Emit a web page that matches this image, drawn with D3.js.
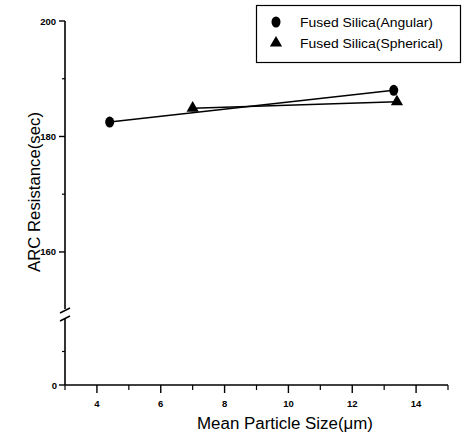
<!DOCTYPE html>
<html><head><meta charset="utf-8">
<script src="https://cdn.jsdelivr.net/npm/d3@7"></script>
<style>body{margin:0;background:#fff}svg{display:block}text{font-family:"Liberation Sans",Arial,sans-serif;fill:#000}</style>
</head><body>
<svg id="c" width="462" height="434"></svg>
<script>
const angularX = [4.4, 13.3];
const angularY = [182.5, 188.0];
const sphericalX = [7.0, 13.4];
const sphericalY = [184.9, 186.0];
const seriesNames = ["Fused Silica(Angular)", "Fused Silica(Spherical)"];
const xTicks = [4, 6, 8, 10, 12, 14];
const xMinor = [3, 5, 7, 9, 11, 13, 15];
const yUpperTicks = [160, 180, 200];
const yUpperMinor = [170, 190];
const yLowerTicks = [0];
const yLowerMinor = [10];
const xTitle = "Mean Particle Size(\u03bcm)";
const yTitle = "ARC Resistance(sec)";

const svg = d3.select("#c");
const x = d3.scaleLinear().domain([3, 15]).range([65, 448]);
const yU = d3.scaleLinear().domain([150, 200]).range([309.7, 21]);
const yL = d3.scaleLinear().domain([0, 20]).range([385, 318]);
const yv = v => v >= 100 ? yU(v) : yL(v);

// x axis
const gx = svg.append("g").attr("transform", "translate(0,385)");
gx.append("line").attr("x1", 65).attr("x2", 448).attr("stroke", "#000").attr("stroke-width", 1.6);
gx.selectAll(".mj").data(xTicks).join("line").attr("x1", d => x(d)).attr("x2", d => x(d))
  .attr("y1", 0).attr("y2", 8).attr("stroke", "#000").attr("stroke-width", 1.4);
gx.selectAll(".mn").data(xMinor).join("line").attr("class","mn").attr("x1", d => x(d)).attr("x2", d => x(d))
  .attr("y1", 0).attr("y2", 5).attr("stroke", "#000").attr("stroke-width", 1.2);
gx.selectAll("text.tl").data(xTicks).join("text").attr("class","tl").attr("x", d => x(d)).attr("y", 22)
  .attr("text-anchor", "middle").attr("font-size", 9.5).attr("font-weight", "bold").text(d => d);

// y axis
const gy = svg.append("g");
gy.append("line").attr("x1", 65).attr("x2", 65).attr("y1", 21).attr("y2", 309).attr("stroke", "#000").attr("stroke-width", 1.6);
gy.append("line").attr("x1", 65).attr("x2", 65).attr("y1", 319).attr("y2", 385).attr("stroke", "#000").attr("stroke-width", 1.6);
[310, 318].forEach(b => gy.append("line").attr("x1", 60).attr("x2", 70).attr("y1", b + 3).attr("y2", b - 2)
  .attr("stroke", "#000").attr("stroke-width", 1.4));
gy.selectAll(".ymj").data(yUpperTicks).join("line").attr("class","ymj").attr("x1", 59).attr("x2", 65)
  .attr("y1", d => yU(d)).attr("y2", d => yU(d)).attr("stroke", "#000").attr("stroke-width", 1.4);
gy.selectAll(".ymn").data(yUpperMinor).join("line").attr("class","ymn").attr("x1", 62).attr("x2", 65)
  .attr("y1", d => yU(d)).attr("y2", d => yU(d)).attr("stroke", "#000").attr("stroke-width", 1.2);
gy.selectAll(".ylmj").data(yLowerTicks).join("line").attr("class","ylmj").attr("x1", 59).attr("x2", 65)
  .attr("y1", d => yL(d)).attr("y2", d => yL(d)).attr("stroke", "#000").attr("stroke-width", 1.4);
gy.selectAll(".ylmn").data(yLowerMinor).join("line").attr("class","ylmn").attr("x1", 62).attr("x2", 65)
  .attr("y1", d => yL(d)).attr("y2", d => yL(d)).attr("stroke", "#000").attr("stroke-width", 1.2);
gy.selectAll("text.yu").data(yUpperTicks).join("text").attr("class","yu").attr("x", 56).attr("y", d => yU(d) + 3.5)
  .attr("text-anchor", "end").attr("font-size", 9.5).attr("font-weight", "bold").text(d => d);
gy.selectAll("text.yl").data(yLowerTicks).join("text").attr("class","yl").attr("x", 57).attr("y", d => yL(d) + 3.5)
  .attr("text-anchor", "end").attr("font-size", 9.5).attr("font-weight", "bold").text(d => d);

// titles
svg.append("text").attr("x", 285).attr("y", 429).attr("text-anchor", "middle").attr("font-size", 16)
  .attr("textLength", 176).attr("lengthAdjust", "spacingAndGlyphs").text(xTitle);
svg.append("text").attr("transform", "translate(40,192) rotate(-90)").attr("text-anchor", "middle").attr("font-size", 17)
  .attr("textLength", 160).attr("lengthAdjust", "spacingAndGlyphs").text(yTitle);

// lines
const line = d3.line().x(d => x(d[0])).y(d => yv(d[1]));
const ang = angularX.map((v, i) => [v, angularY[i]]);
const sph = sphericalX.map((v, i) => [v, sphericalY[i]]);
svg.append("path").attr("d", line(ang)).attr("fill", "none").attr("stroke", "#000").attr("stroke-width", 1.5);
svg.append("path").attr("d", line(sph)).attr("fill", "none").attr("stroke", "#000").attr("stroke-width", 1.5);
const tri = d3.symbol().type(d3.symbolTriangle).size(65);
svg.selectAll("ellipse.a").data(ang).join("ellipse").attr("class","a").attr("cx", d => x(d[0])).attr("cy", d => yv(d[1]))
  .attr("rx", 4.5).attr("ry", 5.5).attr("fill", "#000");
svg.selectAll("path.s").data(sph).join("path").attr("class","s").attr("d", tri)
  .attr("transform", d => `translate(${x(d[0])},${yv(d[1])})`).attr("fill", "#000");

// legend
const lg = svg.append("g");
lg.append("rect").attr("x", 256.5).attr("y", 5.5).attr("width", 204).attr("height", 57).attr("fill", "none")
  .attr("stroke", "#000").attr("stroke-width", 1.2);
lg.append("ellipse").attr("cx", 276).attr("cy", 22).attr("rx", 4.5).attr("ry", 5.5).attr("fill", "#000");
lg.append("path").attr("d", tri).attr("transform", "translate(276,43)").attr("fill", "#000");
lg.append("text").attr("x", 300).attr("y", 26.5).attr("font-size", 12.5).attr("textLength", 133)
  .attr("lengthAdjust", "spacingAndGlyphs").text(seriesNames[0]);
lg.append("text").attr("x", 300).attr("y", 47.5).attr("font-size", 12.5).attr("textLength", 143)
  .attr("lengthAdjust", "spacingAndGlyphs").text(seriesNames[1]);
</script>
</body></html>
